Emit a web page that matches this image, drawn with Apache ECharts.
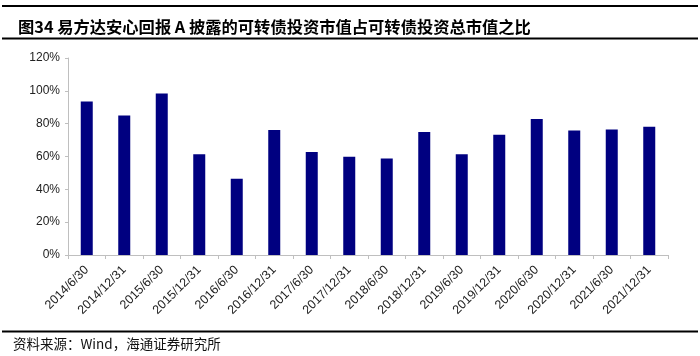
<!DOCTYPE html>
<html>
<head>
<meta charset="utf-8">
<script src="https://cdn.jsdelivr.net/npm/echarts@6/dist/echarts.min.js"></script>
<style>
html,body{margin:0;padding:0;background:#fff;}
#c{width:700px;height:356px;}
</style>
</head>
<body>
<div id="c"></div>
<script>
const categories = ['2014/6/30','2014/12/31','2015/6/30','2015/12/31','2016/6/30','2016/12/31','2017/6/30','2017/12/31','2018/6/30','2018/12/31','2019/6/30','2019/12/31','2020/6/30','2020/12/31','2021/6/30','2021/12/31'];
const ratioValues = [93.5, 85.0, 98.4, 61.4, 46.4, 76.1, 62.7, 59.8, 58.8, 74.9, 61.4, 73.2, 82.8, 75.8, 76.5, 78.1];
const yTicks = [0, 20, 40, 60, 80, 100, 120];
const titleText = '图34 易方达安心回报 A 披露的可转债投资市值占可转债投资总市值之比';
const sourceText = '资料来源：Wind，海通证券研究所';

const chart = echarts.init(document.getElementById('c'), null, {renderer:'canvas'});
chart.setOption({
  animation: false,
  backgroundColor: '#fff',
  title: {
    text: titleText,
    left: 13, top: 14,
    textStyle: {fontSize: 16.3, fontWeight: 'bold', color: '#000', fontFamily: '"Noto Sans CJK SC", "Liberation Sans", sans-serif'}
  },
  graphic: [
    {type:'line', shape:{x1:2,y1:6,x2:698,y2:6}, style:{stroke:'#000', lineWidth:2}},
    {type:'line', shape:{x1:2,y1:38.5,x2:698,y2:38.5}, style:{stroke:'#000', lineWidth:2}},
    {type:'line', shape:{x1:2,y1:331.5,x2:698,y2:331.5}, style:{stroke:'#000', lineWidth:2}},
    {type:'text', left:13, top:337, style:{text: sourceText, fontSize:13.5, fill:'#111', fontFamily:'"Noto Sans CJK SC", "Liberation Sans", sans-serif'}}
  ],
  grid: {left: 68, right: 32, top: 58, bottom: 101, containLabel: false},
  xAxis: {
    type: 'category',
    data: categories,
    boundaryGap: true,
    axisLine: {lineStyle: {color: '#bfbfbf', width: 1}},
    axisTick: {show: true, alignWithLabel: false, length: 4, lineStyle: {color: '#bfbfbf'}},
    axisLabel: {rotate: 45, interval: 0, fontSize: 12.5, color: '#222', margin: 13, fontFamily: '"Liberation Sans", Arial, sans-serif'}
  },
  yAxis: {
    type: 'value',
    min: yTicks[0], max: yTicks[yTicks.length-1], interval: 20,
    axisLine: {show: true, lineStyle: {color: '#bfbfbf', width: 1}},
    axisTick: {show: true, length: 3, lineStyle: {color: '#bfbfbf'}},
    splitLine: {show: false},
    axisLabel: {formatter: v => v + '%', fontSize: 12, color: '#222', margin: 8, fontFamily: '"Liberation Sans", Arial, sans-serif'}
  },
  series: [{
    type: 'bar',
    data: ratioValues,
    barWidth: 12,
    itemStyle: {color: '#000080'}
  }]
});
</script>
</body>
</html>
